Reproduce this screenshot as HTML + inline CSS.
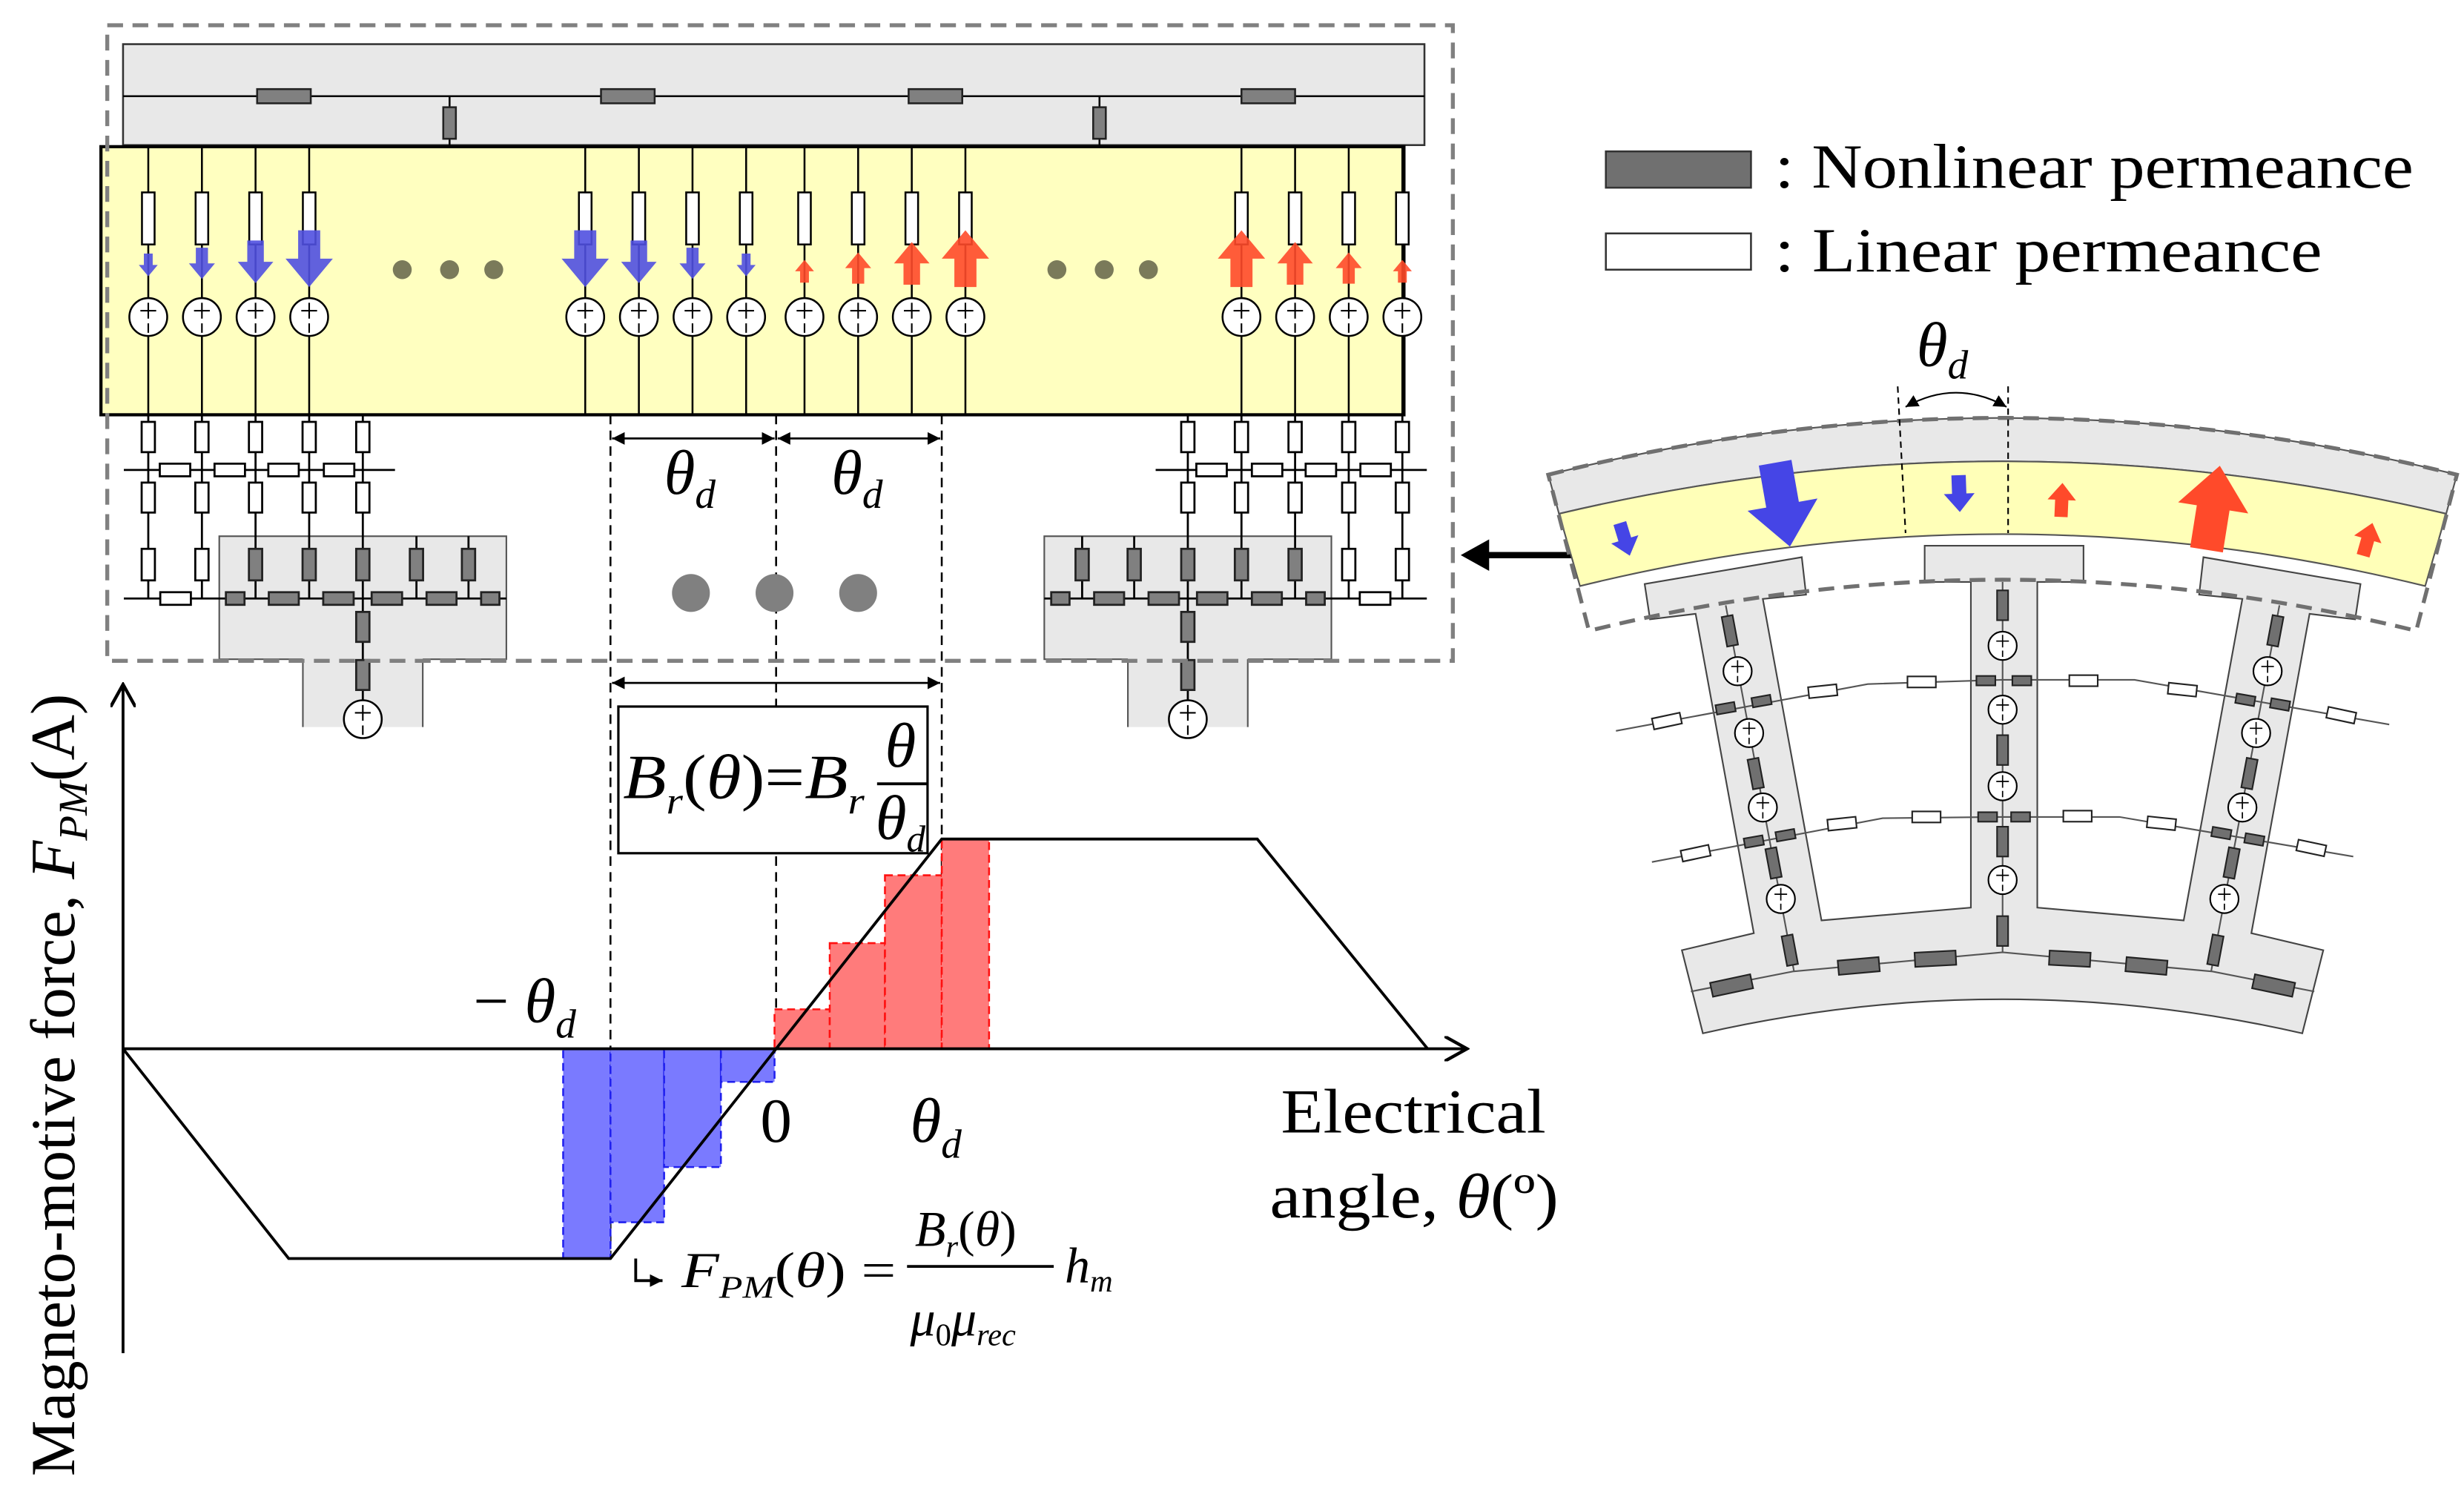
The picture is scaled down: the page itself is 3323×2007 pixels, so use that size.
<!DOCTYPE html>
<html><head><meta charset="utf-8"><style>html,body{margin:0;padding:0;background:#fff}svg{display:block}</style></head>
<body>
<svg xmlns="http://www.w3.org/2000/svg" width="3323" height="2007" viewBox="0 0 1562 943.5" preserveAspectRatio="none" font-family="Liberation Serif, serif">
<defs>
<path id="ar" d="M-7,-18 H7 V0 H15 L0,18 L-15,0 H-7Z"/>
<g id="src"><circle r="12" fill="#fff" stroke="#000" stroke-width="1.2"/><path d="M-5,-4 H5 M0,-9 V1 M0,4 V10" stroke="#000" stroke-width="1"/></g>
<g id="srcs"><circle r="9" fill="#fff" stroke="#000" stroke-width="1"/><path d="M-4,-3 H4 M0,-7 V1 M0,3 V7" stroke="#000" stroke-width="0.8"/></g>
<marker id="ah" viewBox="0 0 10 10" refX="10" refY="5" markerWidth="8" markerHeight="8" orient="auto-start-reverse" markerUnits="userSpaceOnUse"><path d="M0,0 L10,5 L0,10Z" fill="#000"/></marker>
<marker id="oh" viewBox="0 0 10 10" refX="9" refY="5" markerWidth="16" markerHeight="16" orient="auto" markerUnits="userSpaceOnUse"><path d="M0,0 L9,5 L0,10" fill="none" stroke="#000" stroke-width="1.3"/></marker>
<g id="net">
 <rect x="139" y="340" width="182" height="78" fill="#e8e8e8" stroke="#555" stroke-width="1"/>
 <rect x="192" y="417" width="76" height="44" fill="#e8e8e8"/>
 <path d="M192,418 V461 M268,418 V461" stroke="#555" stroke-width="1"/>
 <g stroke="#000" stroke-width="1.3" fill="none">
  <path d="M94,263 V379.5 M128,263 V379.5 M162,263 V379.5 M196,263 V379.5 M230,263 V444 M264,340 V379.5 M297,340 V379.5"/>
  <path d="M78.5,298 H250.4 M78.5,379.5 H321"/>
 </g>
 <g fill="#fff" stroke="#000" stroke-width="1.3">
  <rect x="89.8" y="267.5" width="8.4" height="19.2"/><rect x="123.8" y="267.5" width="8.4" height="19.2"/><rect x="157.8" y="267.5" width="8.4" height="19.2"/><rect x="191.8" y="267.5" width="8.4" height="19.2"/><rect x="225.8" y="267.5" width="8.4" height="19.2"/>
  <rect x="89.8" y="306" width="8.4" height="19"/><rect x="123.8" y="306" width="8.4" height="19"/><rect x="157.8" y="306" width="8.4" height="19"/><rect x="191.8" y="306" width="8.4" height="19"/><rect x="225.8" y="306" width="8.4" height="19"/>
  <rect x="101.3" y="294" width="19.3" height="8"/><rect x="136" y="294" width="19.3" height="8"/><rect x="170.1" y="294" width="19.3" height="8"/><rect x="205.3" y="294" width="19.3" height="8"/>
  <rect x="89.8" y="348" width="8.4" height="20"/><rect x="123.8" y="348" width="8.4" height="20"/>
  <rect x="101.6" y="375.5" width="19.4" height="8"/>
 </g>
 <g fill="#808080" stroke="#222" stroke-width="1.3">
  <rect x="157.8" y="348" width="8.4" height="20"/><rect x="191.8" y="348" width="8.4" height="20"/><rect x="225.8" y="348" width="8.4" height="20"/><rect x="259.8" y="348" width="8.4" height="20"/><rect x="292.8" y="348" width="8.4" height="20"/>
  <rect x="143.2" y="375.5" width="11.8" height="8"/><rect x="170.4" y="375.5" width="19" height="8"/><rect x="204.9" y="375.5" width="19.3" height="8"/><rect x="235.6" y="375.5" width="19.3" height="8"/><rect x="270.4" y="375.5" width="19" height="8"/><rect x="305" y="375.5" width="11.6" height="8"/>
  <rect x="225.8" y="388" width="8.4" height="19"/><rect x="225.8" y="418.5" width="8.4" height="19"/>
 </g>
 <use href="#src" x="230" y="456"/>
</g>
</defs>

<rect x="78" y="28" width="825" height="64" fill="#e8e8e8" stroke="#333" stroke-width="1.2"/>
<path d="M78,61 H903 M285,61 V92 M697,61 V92" stroke="#000" stroke-width="1.2"/>
<g fill="#808080" stroke="#222" stroke-width="1.2">
<rect x="163" y="56.5" width="34" height="9"/><rect x="381" y="56.5" width="34" height="9"/><rect x="576" y="56.5" width="34" height="9"/><rect x="787" y="56.5" width="34" height="9"/>
<rect x="281" y="68" width="8" height="20"/><rect x="693" y="68" width="8" height="20"/>
</g>

<rect x="64" y="93" width="826" height="170" fill="#ffffc0" stroke="#000" stroke-width="2"/>
<g stroke="#000" stroke-width="1.2">
<path d="M94,93V263M128,93V263M162,93V263M196,93V263M371,93V263M405,93V263M439,93V263M473,93V263M510,93V263M544,93V263M578,93V263M612,93V263M787,93V263M821,93V263M855,93V263M889,93V263"/>
</g>
<g fill="#fff" stroke="#000" stroke-width="1.2">
<rect x="90" y="122" width="8" height="33"/><rect x="124" y="122" width="8" height="33"/><rect x="158" y="122" width="8" height="33"/><rect x="192" y="122" width="8" height="33"/>
<rect x="367" y="122" width="8" height="33"/><rect x="401" y="122" width="8" height="33"/><rect x="435" y="122" width="8" height="33"/><rect x="469" y="122" width="8" height="33"/>
<rect x="506" y="122" width="8" height="33"/><rect x="540" y="122" width="8" height="33"/><rect x="574" y="122" width="8" height="33"/><rect x="608" y="122" width="8" height="33"/>
<rect x="783" y="122" width="8" height="33"/><rect x="817" y="122" width="8" height="33"/><rect x="851" y="122" width="8" height="33"/><rect x="885" y="122" width="8" height="33"/>
</g>
<g fill="#5050e0" fill-opacity="0.9">
<use href="#ar" transform="translate(94,168) scale(0.4)"/><use href="#ar" transform="translate(128,167) scale(0.55)"/><use href="#ar" transform="translate(162,166) scale(0.75)"/><use href="#ar" transform="translate(196,164) scale(1)"/>
<use href="#ar" transform="translate(371,164) scale(1)"/><use href="#ar" transform="translate(405,166) scale(0.75)"/><use href="#ar" transform="translate(439,167) scale(0.55)"/><use href="#ar" transform="translate(473,168) scale(0.4)"/>
</g>
<g fill="#ff4a2a" fill-opacity="0.9">
<use href="#ar" transform="translate(510,172) scale(0.4,-0.4)"/><use href="#ar" transform="translate(544,170) scale(0.55,-0.55)"/><use href="#ar" transform="translate(578,167) scale(0.75,-0.75)"/><use href="#ar" transform="translate(612,164) scale(1,-1)"/>
<use href="#ar" transform="translate(787,164) scale(1,-1)"/><use href="#ar" transform="translate(821,167) scale(0.75,-0.75)"/><use href="#ar" transform="translate(855,170) scale(0.55,-0.55)"/><use href="#ar" transform="translate(889,172) scale(0.4,-0.4)"/>
</g>
<g>
<use href="#src" x="94" y="201"/><use href="#src" x="128" y="201"/><use href="#src" x="162" y="201"/><use href="#src" x="196" y="201"/>
<use href="#src" x="371" y="201"/><use href="#src" x="405" y="201"/><use href="#src" x="439" y="201"/><use href="#src" x="473" y="201"/>
<use href="#src" x="510" y="201"/><use href="#src" x="544" y="201"/><use href="#src" x="578" y="201"/><use href="#src" x="612" y="201"/>
<use href="#src" x="787" y="201"/><use href="#src" x="821" y="201"/><use href="#src" x="855" y="201"/><use href="#src" x="889" y="201"/>
</g>
<g fill="#7a7a5a"><circle cx="255" cy="171" r="6"/><circle cx="285" cy="171" r="6"/><circle cx="313" cy="171" r="6"/><circle cx="670" cy="171" r="6"/><circle cx="700" cy="171" r="6"/><circle cx="728" cy="171" r="6"/></g>

<use href="#net"/>
<use href="#net" transform="translate(983,0) scale(-1,1)"/>

<g stroke="#000" stroke-width="1.2" stroke-dasharray="6 4" fill="none">
<path d="M387,263 V798 M492,263 V665 M597,263 V665"/>
</g>
<g stroke="#000" stroke-width="1.3">
<path d="M388,278 H491" marker-start="url(#ah)" marker-end="url(#ah)"/>
<path d="M493,278 H596" marker-start="url(#ah)" marker-end="url(#ah)"/>
<path d="M388,433 H596" marker-start="url(#ah)" marker-end="url(#ah)"/>
</g>
<g font-style="italic" font-size="40"><text x="421" y="313">θ<tspan font-size="26" dy="9">d</tspan></text><text x="527" y="313">θ<tspan font-size="26" dy="9">d</tspan></text></g>
<g fill="#808080"><circle cx="438" cy="376" r="12"/><circle cx="491" cy="376" r="12"/><circle cx="544" cy="376" r="12"/></g>

<rect x="68" y="16" width="853" height="403" fill="none" stroke="#808080" stroke-width="2.5" stroke-dasharray="10 6"/>

<rect x="392" y="448" width="196" height="93" fill="#fff" stroke="#000" stroke-width="1.5"/>
<g font-style="italic" font-size="40">
<text x="395" y="506" textLength="153" lengthAdjust="spacingAndGlyphs">B<tspan font-size="24" dy="10">r</tspan><tspan dy="-10" font-style="normal">(</tspan>θ<tspan font-style="normal">)=</tspan>B<tspan font-size="24" dy="10">r</tspan></text>
<text x="561" y="486">θ</text>
<text x="555" y="532">θ<tspan font-size="24" dy="8">d</tspan></text>
</g>
<path d="M556,497 H588" stroke="#000" stroke-width="1.8"/>

<g fill="#7a7aff" stroke="#2020ee" stroke-width="1.2" stroke-dasharray="5 3">
<rect x="357" y="665" width="30" height="133"/><rect x="387" y="665" width="34" height="110"/><rect x="421" y="665" width="36" height="75"/><rect x="457" y="665" width="34" height="21"/>
</g>
<g fill="#ff7b7b" stroke="#ff1010" stroke-width="1.2" stroke-dasharray="5 3">
<rect x="491" y="640" width="35" height="25"/><rect x="526" y="598" width="35" height="67"/><rect x="561" y="555" width="36" height="110"/><rect x="597" y="532" width="30" height="133"/>
</g>

<g stroke="#000" stroke-width="1.8" fill="none">
<path d="M78,858 V434" marker-end="url(#oh)"/>
<path d="M78,665 H930" marker-end="url(#oh)"/>
<path d="M78,665 L183,798 L387,798 L597,532 L797,532 L905,665"/>
<path d="M403,798 V812 H420" marker-end="url(#ah)"/>
</g>
<g font-size="40">
<text x="300" y="648"><tspan font-style="normal">− </tspan><tspan font-style="italic">θ<tspan font-size="26" dy="10">d</tspan></tspan></text>
<text x="482" y="724">0</text>
<text x="577" y="724" font-style="italic">θ<tspan font-size="26" dy="10">d</tspan></text>
<text x="812" y="718" textLength="168" lengthAdjust="spacingAndGlyphs">Electrical</text>
<text x="805" y="772" textLength="183" lengthAdjust="spacingAndGlyphs">angle, <tspan font-style="italic">θ</tspan>(º)</text>
<text transform="translate(47,688) rotate(-90)" text-anchor="middle">Magneto-motive force, <tspan font-style="italic">F</tspan><tspan font-size="26" dy="8" font-style="italic">PM</tspan><tspan dy="-8">(A)</tspan></text>
</g>
<g font-style="italic" font-size="32">
<text x="432" y="816" textLength="136" lengthAdjust="spacingAndGlyphs">F<tspan font-size="20" dy="7">PM</tspan><tspan dy="-7" font-style="normal">(</tspan>θ<tspan font-style="normal">) =</tspan></text>
<text x="580" y="790">B<tspan font-size="20" dy="7">r</tspan><tspan dy="-7" font-style="normal">(</tspan>θ<tspan font-style="normal">)</tspan></text>
<text x="577" y="847">μ<tspan font-size="20" dy="6" font-style="normal">0</tspan><tspan dy="-6">μ</tspan><tspan font-size="20" dy="6">rec</tspan></text>
<text x="675" y="813">h<tspan font-size="20" dy="6">m</tspan></text>
</g>
<path d="M575,803 H668" stroke="#000" stroke-width="1.8"/>

<rect x="1018" y="96" width="92" height="23" fill="#707070" stroke="#333" stroke-width="1.2"/>
<rect x="1018" y="148" width="92" height="23" fill="#fff" stroke="#333" stroke-width="1.2"/>
<g font-size="40"><text x="1125" y="119" textLength="405" lengthAdjust="spacingAndGlyphs">: Nonlinear permeance</text><text x="1125" y="172" textLength="347" lengthAdjust="spacingAndGlyphs">: Linear permeance</text></g>

<path d="M1000,352 H940" stroke="#000" stroke-width="4"/>
<path d="M926,352 L944,342 L944,362Z" fill="#000"/>

<path d="M981.5,301 Q1269.5,229 1557.5,301 L1550.7,325.75 Q1269.5,259.25 988.3,325.75Z" fill="#e8e8e8" stroke="#555" stroke-width="1"/>
<path d="M988.3,325.75 Q1269.5,259.25 1550.7,325.75 L1537.4,371.6 Q1269.5,305.8 1001.6,371.6Z" fill="#ffffb8" stroke="#555" stroke-width="1"/>
<path d="M1042.6,370.3 L1142.2,353.3 L1144.9,377.05 L1117.5,379.75 L1154.7,583.6 L1249.4,575.5 L1249.4,369 L1220.1,369 L1220.1,346 L1320.8,346 L1320.8,369 L1291.5,369 L1291.5,575.5 L1384.3,583.6 L1421.5,379.75 L1394.1,377.05 L1396.8,353.3 L1496.4,370.3 L1493,392.7 L1464.1,389.2 L1427.2,591.7 L1472.8,602.5 L1459.5,655.2 Q1269.5,612 1079.5,655.2 L1066.2,602.5 L1111.8,591.7 L1074.9,389.2 L1046,392.7Z" fill="#e8e8e8" stroke="#444" stroke-width="1"/>
<path d="M981.5,301 Q1269.5,229 1557.5,301 L1531.7,400 Q1269.5,335.2 1007.3,400Z" fill="none" stroke="#707070" stroke-width="2.5" stroke-dasharray="10 6"/>
<g stroke="#555" stroke-width="1" fill="none">
<path d="M1269.5,369 V603.85"/>
<path d="M1024.4,463.45 L1184,433.75 L1269.5,431.05 L1353.1,431.05 L1514.6,459.4"/>
<path d="M1047.2,546.6 L1193.5,518.8 L1269.5,518 L1343.6,518 L1491.8,543.1"/>
<path d="M1071.9,628.7 L1136.5,616 L1269.5,603.85 L1402.5,616 L1467.1,628.7"/>
<path d="M1094,383.8 L1137.3,616 M1445,383.8 L1401.7,616"/>
</g>
<g fill="#fff" stroke="#222" stroke-width="1">
<rect x="-9" y="-3.5" width="18" height="7" transform="translate(1056.7,457.2) rotate(-12)"/>
<rect x="-9" y="-3.5" width="18" height="7" transform="translate(1155.5,438.3) rotate(-6)"/>
<rect x="-9" y="-3.5" width="18" height="7" transform="translate(1218.2,432.4)"/>
<rect x="-9" y="-3.5" width="18" height="7" transform="translate(1320.8,431.6)"/>
<rect x="-9" y="-3.5" width="18" height="7" transform="translate(1383.5,437.3) rotate(6)"/>
<rect x="-9" y="-3.5" width="18" height="7" transform="translate(1484.2,453.5) rotate(12)"/>
<rect x="-9" y="-3.5" width="18" height="7" transform="translate(1074.9,541) rotate(-12)"/>
<rect x="-9" y="-3.5" width="18" height="7" transform="translate(1167.7,522.3) rotate(-6)"/>
<rect x="-9" y="-3.5" width="18" height="7" transform="translate(1221.2,518)"/>
<rect x="-9" y="-3.5" width="18" height="7" transform="translate(1317,517.5)"/>
<rect x="-9" y="-3.5" width="18" height="7" transform="translate(1370.2,522) rotate(6)"/>
<rect x="-9" y="-3.5" width="18" height="7" transform="translate(1465.2,537.7) rotate(12)"/>
</g>
<g fill="#707070" stroke="#222" stroke-width="1">
<rect x="-6" y="-3" width="12" height="6" transform="translate(1093.9,449.1) rotate(-10)"/>
<rect x="-6" y="-3" width="12" height="6" transform="translate(1116.7,444.55) rotate(-10)"/>
<rect x="-6" y="-3" width="12" height="6" transform="translate(1258.9,431.6)"/>
<rect x="-6" y="-3" width="12" height="6" transform="translate(1281.7,431.6)"/>
<rect x="-6" y="-3" width="12" height="6" transform="translate(1423.4,443.7) rotate(10)"/>
<rect x="-6" y="-3" width="12" height="6" transform="translate(1445.4,446.7) rotate(10)"/>
<rect x="-6" y="-3" width="12" height="6" transform="translate(1111.8,533.65) rotate(-10)"/>
<rect x="-6" y="-3" width="12" height="6" transform="translate(1131.9,529.6) rotate(-10)"/>
<rect x="-6" y="-3" width="12" height="6" transform="translate(1260,518)"/>
<rect x="-6" y="-3" width="12" height="6" transform="translate(1280.9,518)"/>
<rect x="-6" y="-3" width="12" height="6" transform="translate(1408.2,528.25) rotate(10)"/>
<rect x="-6" y="-3" width="12" height="6" transform="translate(1429.1,532.3) rotate(10)"/>
<rect x="1266" y="374.35" width="7" height="18.9"/><rect x="1266" y="466.15" width="7" height="18.9"/><rect x="1266" y="524.2" width="7" height="18.9"/><rect x="1266" y="580.9" width="7" height="18.9"/>
<rect x="-3.5" y="-9.5" width="7" height="19" transform="translate(1096.6,400) rotate(-10.6)"/>
<rect x="-3.5" y="-9.5" width="7" height="19" transform="translate(1113,490.5) rotate(-10.6)"/>
<rect x="-3.5" y="-9.5" width="7" height="19" transform="translate(1124.3,547.2) rotate(-10.6)"/>
<rect x="-3.5" y="-9.5" width="7" height="19" transform="translate(1134.6,602.5) rotate(-10.6)"/>
<rect x="-3.5" y="-9.5" width="7" height="19" transform="translate(1442.4,400) rotate(10.6)"/>
<rect x="-3.5" y="-9.5" width="7" height="19" transform="translate(1426,490.5) rotate(10.6)"/>
<rect x="-3.5" y="-9.5" width="7" height="19" transform="translate(1414.7,547.2) rotate(10.6)"/>
<rect x="-3.5" y="-9.5" width="7" height="19" transform="translate(1404.4,602.5) rotate(10.6)"/>
<rect x="-13" y="-4.5" width="26" height="9" transform="translate(1097.7,624.9) rotate(-12)"/>
<rect x="-13" y="-4.5" width="26" height="9" transform="translate(1178.3,612.5) rotate(-5)"/>
<rect x="-13" y="-4.5" width="26" height="9" transform="translate(1226.9,607.9) rotate(-3)"/>
<rect x="-13" y="-4.5" width="26" height="9" transform="translate(1441.3,624.9) rotate(12)"/>
<rect x="-13" y="-4.5" width="26" height="9" transform="translate(1360.7,612.5) rotate(5)"/>
<rect x="-13" y="-4.5" width="26" height="9" transform="translate(1312.1,607.9) rotate(3)"/>
</g>
<g>
<use href="#srcs" x="1269.5" y="409.5"/><use href="#srcs" x="1269.5" y="450"/><use href="#srcs" x="1269.5" y="498.5"/><use href="#srcs" x="1269.5" y="558"/>
<use href="#srcs" x="1101.5" y="425.6"/><use href="#srcs" x="1108.8" y="464.8"/><use href="#srcs" x="1117.5" y="512"/><use href="#srcs" x="1128.9" y="570"/>
<use href="#srcs" x="1437.5" y="425.6"/><use href="#srcs" x="1430.2" y="464.8"/><use href="#srcs" x="1421.5" y="512"/><use href="#srcs" x="1410.1" y="570"/>
</g>
<g fill="#4545e6">
<use href="#ar" transform="translate(1030,342) rotate(-17) scale(0.6)"/>
<use href="#ar" transform="translate(1130,320) rotate(-10) scale(1.5)"/>
<use href="#ar" transform="translate(1242,313) rotate(-2) scale(0.65)"/>
</g>
<g fill="#ff4a2a">
<use href="#ar" transform="translate(1307,317) rotate(2.5) scale(0.6,-0.6)"/>
<use href="#ar" transform="translate(1403,322) rotate(9) scale(1.5,-1.5)"/>
<use href="#ar" transform="translate(1501,342) rotate(16) scale(0.6,-0.6)"/>
</g>
<g stroke="#000" stroke-width="1" stroke-dasharray="4 3" fill="none"><path d="M1203,245 L1208,338 M1273,245 V338"/></g>
<path d="M1208,258 Q1240,240 1272,258" fill="none" stroke="#000" stroke-width="1" marker-start="url(#ah)" marker-end="url(#ah)"/>
<text x="1215" y="232" font-size="40" font-style="italic">θ<tspan font-size="26" dy="8">d</tspan></text>
</svg>
</body></html>
